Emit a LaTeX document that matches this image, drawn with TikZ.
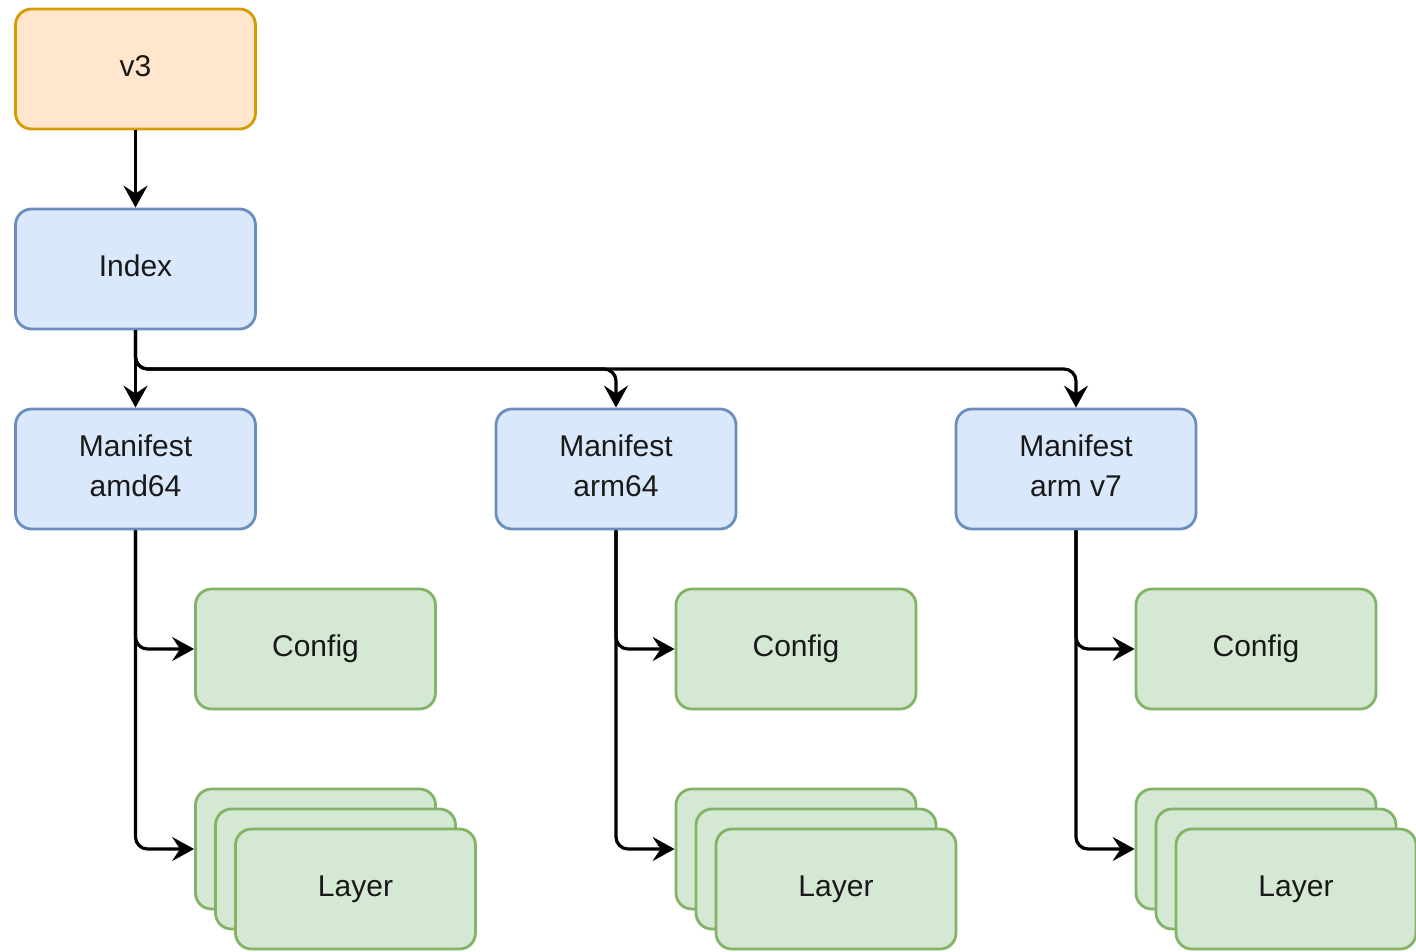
\documentclass[tikz,border=0pt]{standalone}
\usepackage{fontspec}
\setmainfont{Liberation Sans}
\usetikzlibrary{arrows.meta}
\definecolor{orfill}{HTML}{FFE6CC}
\definecolor{ordraw}{HTML}{D79B00}
\definecolor{blfill}{HTML}{DAE8FC}
\definecolor{bldraw}{HTML}{6C8EBF}
\definecolor{grfill}{HTML}{D5E8D4}
\definecolor{grdraw}{HTML}{82B366}
\newcommand{\twolines}[2]{\raisebox{0pt}[\height][\dimexpr\depth+7pt\relax]{\parbox{220pt}{\centering #1\\#2}}}
\begin{document}
\begin{tikzpicture}[x=1pt,y=-1pt,
  box/.style={rectangle, rounded corners=16pt, line width=2.8pt, minimum width=240pt, minimum height=120pt, inner sep=0pt, font=\fontsize{30}{40}\selectfont, text=black!90},
  onebox/.style={text height=22pt, text depth=7pt},
  orbox/.style={box, onebox, fill=orfill, draw=ordraw},
  blbox/.style={box, fill=blfill, draw=bldraw},
  grbox/.style={box, onebox, fill=grfill, draw=grdraw},
  edge/.style={line width=3.2pt, rounded corners=12pt, -{Stealth[length=22pt, width=24pt, inset=8pt]}}]
\useasboundingbox (0,0) rectangle (1416,951);

\node[orbox] (v3) at (135.5,69) {v3};
\node[blbox, onebox] (index) at (135.5,269) {Index};
\node[blbox] (m1) at (135.5,469) {\twolines{Manifest}{amd64}};
\node[blbox] (m2) at (616,469) {\twolines{Manifest}{arm64}};
\node[blbox] (m3) at (1076,469) {\twolines{Manifest}{arm v7}};

\node[grbox] (c1) at (315.5,649) {Config};
\node[grbox] (c2) at (796,649) {Config};
\node[grbox] (c3) at (1256,649) {Config};

\node[grbox] (l1a) at (315.5,849) {};
\node[grbox] (l1b) at (335.5,869) {};
\node[grbox] (l1c) at (355.5,889) {Layer};
\node[grbox] (l2a) at (796,849) {};
\node[grbox] (l2b) at (816,869) {};
\node[grbox] (l2c) at (836,889) {Layer};
\node[grbox] (l3a) at (1256,849) {};
\node[grbox] (l3b) at (1276,869) {};
\node[grbox] (l3c) at (1296,889) {Layer};

\coordinate (split) at (135.5,369);

\draw[edge] (v3.south) -- (index.north);
\draw[edge] (index.south) -- (m1.north);
\draw[edge] (index.south) -- (split) -| (m2.north);
\draw[edge] (index.south) -- (split) -| (m3.north);

\draw[edge] (m1.south) |- (c1.west);
\draw[edge] (m1.south) |- (l1a.west);
\draw[edge] (m2.south) |- (c2.west);
\draw[edge] (m2.south) |- (l2a.west);
\draw[edge] (m3.south) |- (c3.west);
\draw[edge] (m3.south) |- (l3a.west);
\end{tikzpicture}
\end{document}
